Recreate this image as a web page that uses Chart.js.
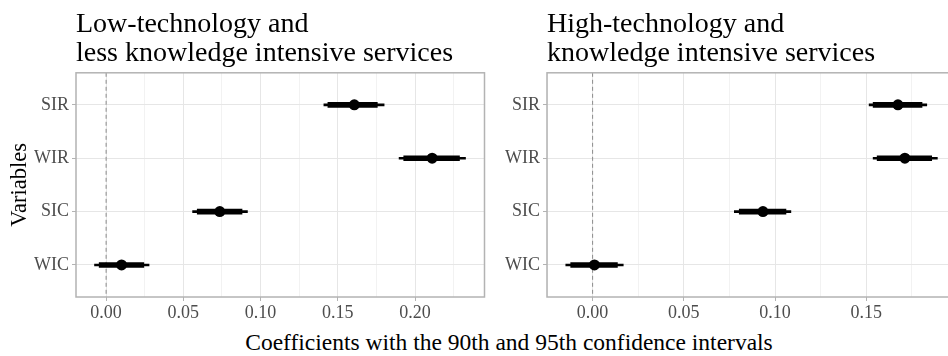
<!DOCTYPE html>
<html lang="en">
<head>
    <meta charset="UTF-8">
    <title>Coefficient plot</title>
    <script src="https://cdn.jsdelivr.net/npm/chart.js"></script>
    <style>
        body {
            margin: 0;
            width: 948px;
            height: 356px;
            overflow: hidden;
            position: relative;
            background: #ffffff;
            font-family: 'Liberation Serif', 'DejaVu Serif', serif;
        }
        #leftChart { position: absolute; left: 0; top: 0; }
        #rightChart { position: absolute; left: 490px; top: 0; }
        #xTitle {
            position: absolute;
            top: 331px;
            left: 509px;
            transform: translateX(-50%);
            white-space: nowrap;
            font-size: 23.5px;
            line-height: 23.5px;
            color: #000;
        }
    </style>
</head>
<body>
<canvas id="leftChart" width="490" height="324"></canvas>
<canvas id="rightChart" width="472" height="324"></canvas>
<div id="xTitle">Coefficients with the 90th and 95th confidence intervals</div>

<script>
    // variables, top to bottom
    const variables = ['SIR', 'WIR', 'SIC', 'WIC'];

    // Low-technology and less knowledge intensive services
    const lowEst  = [0.1607, 0.2111, 0.0736, 0.0100];
    const lowLo90 = [0.1436, 0.1927, 0.0590, -0.0045];
    const lowHi90 = [0.1756, 0.2288, 0.0880, 0.0244];
    const lowLo95 = [0.1410, 0.1897, 0.0560, -0.0075];
    const lowHi95 = [0.1800, 0.2327, 0.0915, 0.0278];

    // High-technology and knowledge intensive services
    const highEst  = [0.1674, 0.1712, 0.0934, 0.0010];
    const highLo90 = [0.1538, 0.1560, 0.0804, -0.0120];
    const highHi90 = [0.1806, 0.1859, 0.1060, 0.0136];
    const highLo95 = [0.1516, 0.1538, 0.0777, -0.0147];
    const highHi95 = [0.1832, 0.1890, 0.1087, 0.0168];

    const serif = "'Liberation Serif', 'DejaVu Serif', serif";

    function isMajor(v) {
        const r = v / 0.05;
        return Math.abs(r - Math.round(r)) < 1e-6;
    }

    // panel border + dashed zero line
    const panelPlugin = {
        id: 'panel',
        beforeDatasetsDraw(chart) {
            const ctx = chart.ctx;
            const area = chart.chartArea;
            const x0 = chart.scales.x.getPixelForValue(0);
            ctx.save();
            ctx.strokeStyle = '#8c8c8c';
            ctx.lineWidth = 1;
            ctx.setLineDash([4, 3]);
            ctx.beginPath();
            ctx.moveTo(x0, area.top);
            ctx.lineTo(x0, area.bottom);
            ctx.stroke();
            ctx.restore();
        },
        afterDraw(chart) {
            const ctx = chart.ctx;
            const a = chart.chartArea;
            ctx.save();
            ctx.strokeStyle = '#b3b3b3';
            ctx.lineWidth = 1.5;
            ctx.strokeRect(a.left, a.top, a.right - a.left, a.bottom - a.top);
            ctx.restore();
        }
    };

    function makeChart(id, titleLines, est, lo90, hi90, lo95, hi95, xMin, xMax, yWidth, showYTitle) {
        const ctx = document.getElementById(id).getContext('2d');
        return new Chart(ctx, {
            type: 'bar',
            data: {
                datasets: [
                    {
                        label: '95%',
                        data: lo95.map((lo, i) => ({ x: [lo, hi95[i]], y: i + 1 })),
                        backgroundColor: '#000',
                        barThickness: 2,
                        grouped: false,
                        order: 3
                    },
                    {
                        label: '90%',
                        data: lo90.map((lo, i) => ({ x: [lo, hi90[i]], y: i + 1 })),
                        backgroundColor: '#000',
                        barThickness: 5,
                        grouped: false,
                        order: 2
                    },
                    {
                        type: 'scatter',
                        label: 'Estimate',
                        data: est.map((v, i) => ({ x: v, y: i + 1 })),
                        backgroundColor: '#000',
                        borderWidth: 0,
                        pointRadius: 5.5,
                        order: 1
                    }
                ]
            },
            options: {
                responsive: false,
                animation: false,
                indexAxis: 'y',
                layout: { padding: { left: 0, right: 3, top: 0, bottom: 0 } },
                plugins: {
                    legend: { display: false },
                    tooltip: { enabled: false },
                    title: {
                        display: true,
                        text: titleLines,
                        align: 'start',
                        fullSize: false,
                        color: '#000',
                        font: { family: serif, size: 28, weight: 'normal', lineHeight: 1.05 },
                        padding: { top: 10, bottom: 4 }
                    }
                },
                scales: {
                    x: {
                        type: 'linear',
                        min: xMin,
                        max: xMax,
                        afterFit: s => { s.height = 27; },
                        ticks: {
                            stepSize: 0.025,
                            includeBounds: false,
                            autoSkip: false,
                            maxRotation: 0,
                            padding: 1,
                            color: '#4d4d4d',
                            font: { family: serif, size: 18 },
                            callback: v => isMajor(v) ? v.toFixed(2) : ''
                        },
                        grid: {
                            color: c => (c.tick && isMajor(c.tick.value)) ? '#e6e6e6' : '#f2f2f2',
                            tickColor: c => (c.tick && isMajor(c.tick.value)) ? '#b3b3b3' : 'rgba(0,0,0,0)',
                            tickLength: 4,
                            lineWidth: 1
                        },
                        border: { display: false }
                    },
                    y: {
                        type: 'linear',
                        reverse: true,
                        min: 0.4,
                        max: 4.6,
                        offset: false,
                        afterFit: s => { s.width = yWidth; },
                        ticks: {
                            stepSize: 1,
                            includeBounds: false,
                            padding: 3,
                            color: '#4d4d4d',
                            font: { family: serif, size: 18 },
                            callback: v => variables[v - 1] || ''
                        },
                        grid: {
                            offset: false,
                            color: '#e6e6e6',
                            tickColor: '#b3b3b3',
                            tickLength: 4
                        },
                        border: { display: false },
                        title: {
                            display: showYTitle,
                            text: 'Variables',
                            color: '#000',
                            font: { family: serif, size: 22.5 },
                            padding: { top: 7, bottom: 0 }
                        }
                    }
                }
            },
            plugins: [panelPlugin]
        });
    }

    makeChart('leftChart', ['Low-technology and', 'less knowledge intensive services'],
        lowEst, lowLo90, lowHi90, lowLo95, lowHi95, -0.0195, 0.245, 76, true);

    makeChart('rightChart', ['High-technology and', 'knowledge intensive services'],
        highEst, highLo90, highHi90, highLo95, highHi95, -0.025, 0.1995, 57, false);
</script>
</body>
</html>
